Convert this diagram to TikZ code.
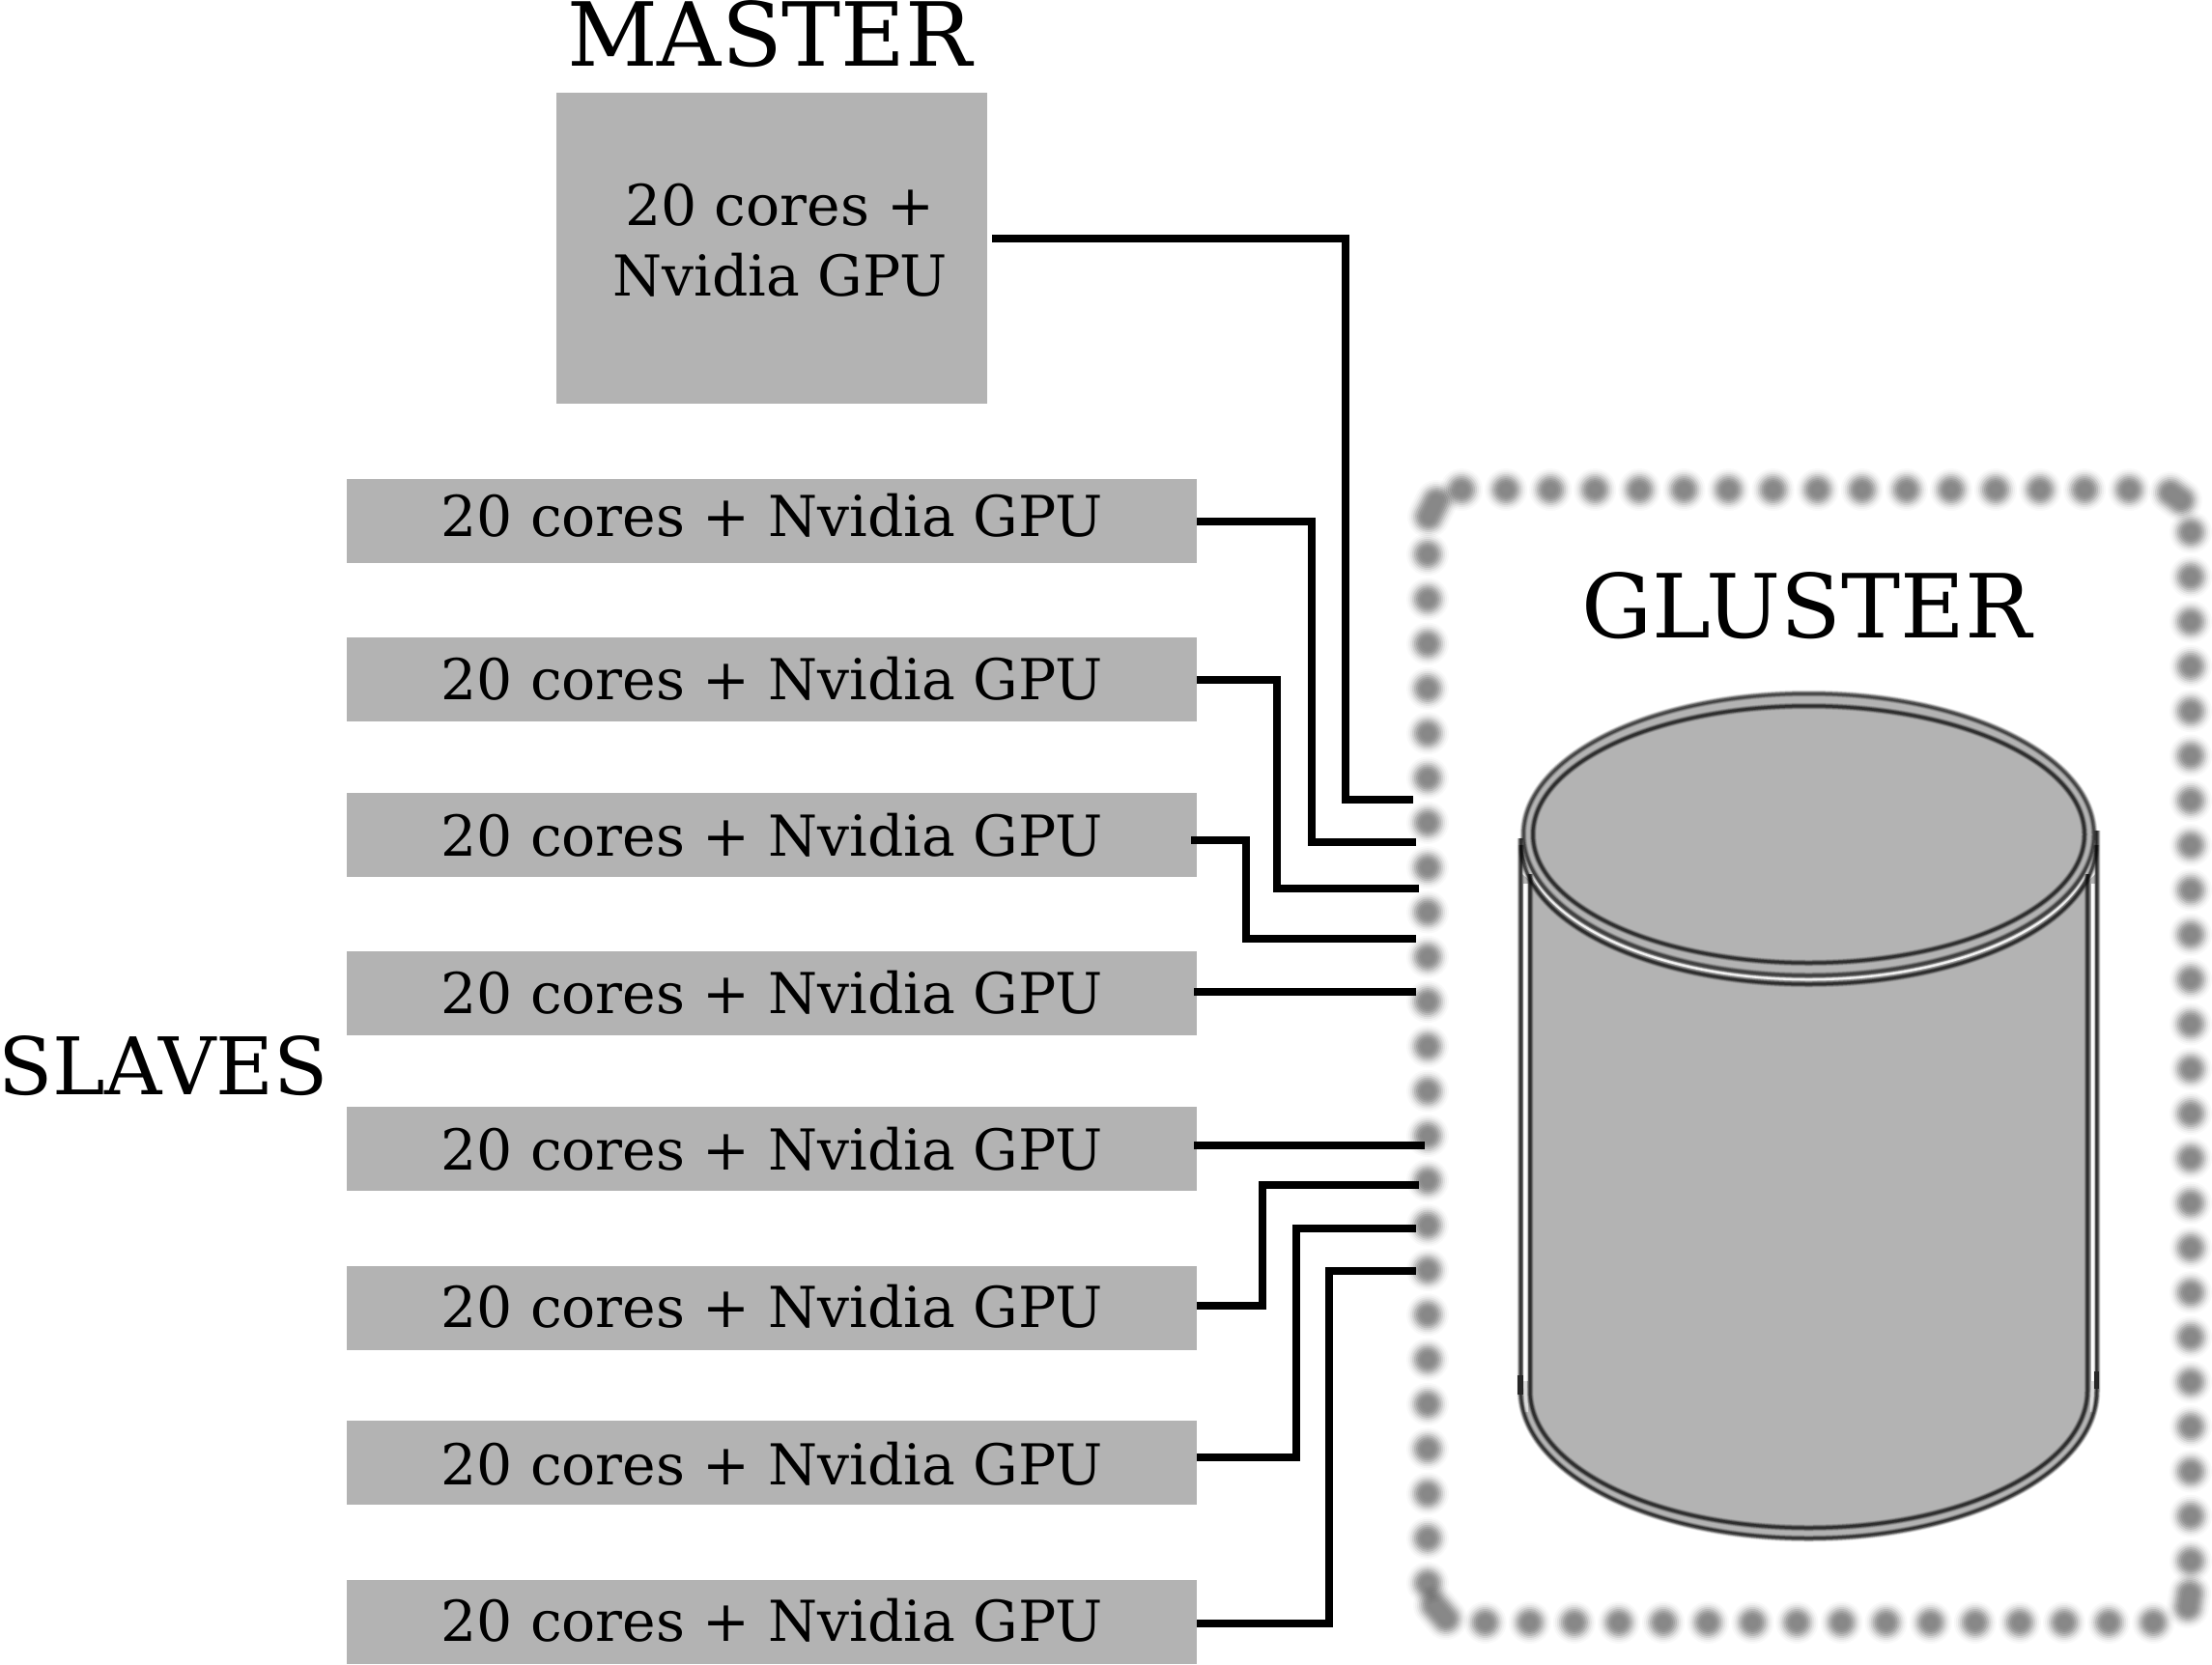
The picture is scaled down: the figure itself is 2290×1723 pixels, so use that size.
\documentclass[tikz,border=0pt]{standalone}
\usepackage{fontspec}
\setmainfont{DejaVu Serif}
\definecolor{boxgray}{HTML}{B3B3B3}
\tikzset{
  px/.style={x=1pt,y=-1pt},
  boxbase/.style={fill=boxgray,draw=none,inner sep=0pt,font=\fontsize{58.4}{73}\selectfont},
  slavebox/.style={boxbase,minimum width=880,minimum height=87,text depth=10},
  masterbox/.style={boxbase,minimum width=446,minimum height=322,align=center},
  bigtext/.style={font=\fontsize{91.6}{96}\selectfont,inner sep=0pt,anchor=base},
  slavetext/.style={font=\fontsize{82.2}{90}\selectfont,inner sep=0pt,anchor=base},
  wire/.style={line width=8,draw=black,line join=miter},
  cylfill/.style={fill=boxgray},
}
\newcommand{\softpath}[2]{\foreach \w/\o in {7/.12,5.5/.2,4/.3,2.5/.45}{\draw[#1,line width=\w,opacity=\o] #2;}}
% blur-like stack of round strokes; #1 = dash options, #2 = path
\newcommand{\blurred}[2]{\foreach \r/\o in {22/.025,20/.035,18/.06,16/.085,14/.105,12/.11,10/.095,8/.06,6/.03}{\draw[black,opacity=\o,line width=2*\r,line cap=round,#1] #2;}}
\begin{document}
\begin{tikzpicture}[px]
\useasboundingbox (0,0) rectangle (2290,1723);
% blurred dotted frame: four sides and the four elongated corner dots
\blurred{dash pattern=on 0.01 off 46.07}{(1513,507) -- (2212,507)}
\blurred{dash pattern=on 0.01 off 46.3}{(2268,551) -- (2268,1630)}
\blurred{dash pattern=on 0.01 off 46.3}{(1478,574) -- (1478,1640)}
\blurred{dash pattern=on 0.01 off 46.1}{(1537.6,1680) -- (2235,1680)}
\blurred{}{(1479,535) -- (1487,519)}
\blurred{}{(2247,510) -- (2258,518)}
\blurred{}{(2267,1650) -- (2265,1664)}
\blurred{}{(1485,1662) -- (1497,1676)}
% cylinder
\coordinate (cyltop) at (1872.5,864);
\fill[cylfill] (1574,868) -- (1574,1440) arc[start angle=180,end angle=0,x radius=298.5,y radius=153] -- (2171,860) -- cycle;
% white strips beside the inner side lines
\draw[white,line width=5] (1579,915) -- (1579,1430);
\draw[white,line width=4] (2166.5,915) -- (2166.5,1430);
\draw[white,opacity=.55,line width=4] (1579,1430) -- (1580,1462);
\draw[white,opacity=.55,line width=3.5] (2166.5,1430) -- (2165.5,1462);
\fill[white] (1576,888) -- (1576,905) -- (1590,917) -- cycle;
\fill[white] (2169,880) -- (2169,905) -- (2157,917) -- cycle;
\draw[white,opacity=.85,line width=2.6] (1577,870) arc[start angle=180,end angle=0,x radius=295.5,y radius=144];
\softpath{black}{(1574,868) -- (1574,1440) arc[start angle=180,end angle=0,x radius=298.5,y radius=153] -- (2171,860)}
\softpath{black}{(1584,905) -- (1584,1440) arc[start angle=180,end angle=0,x radius=288.5,y radius=142] -- (2161,905)}
\softpath{black}{(1575,875) arc[start angle=180,end angle=0,x radius=297.5,y radius=144]}
\draw[black!85,line width=6] (1574,1424) -- (1574,1444);
\draw[black!85,line width=5] (2170.5,1420) -- (2170.5,1438);
\fill[cylfill] (cyltop) ellipse[x radius=295.5,y radius=146];
\softpath{black!90}{(cyltop) ellipse[x radius=295.5,y radius=146]}
\softpath{black}{(cyltop) ellipse[x radius=285.5,y radius=133]}
% boxes
\node[masterbox] (m) at (798.8,257) {\hspace*{17.4pt}20 cores +\\\hspace*{17.4pt}Nvidia GPU\rule[-17pt]{0pt}{0pt}};
\node[slavebox,text height=41.4] (s1) at (799,539.7) {20 cores + Nvidia GPU};
\node[slavebox,text height=51] (s2) at (799,703.5) {20 cores + Nvidia GPU};
\node[slavebox,text height=53.6] (s3) at (799,864.6) {20 cores + Nvidia GPU};
\node[slavebox,text height=51.6] (s4) at (799,1028.7) {20 cores + Nvidia GPU};
\node[slavebox,text height=54.4] (s5) at (799,1189.6) {20 cores + Nvidia GPU};
\node[slavebox,text height=50.8] (s6) at (799,1354) {20 cores + Nvidia GPU};
\node[slavebox,text height=54.6] (s7) at (799,1514.8) {20 cores + Nvidia GPU};
\node[slavebox,text height=50] (s8) at (799,1679) {20 cores + Nvidia GPU};
% labels
\node[bigtext] (lm) at (797,69) {MASTER};
\node[bigtext] (lg) at (1870,660) {GLUSTER};
\node[slavetext] (ls) at (169,1133) {SLAVES};
% wire ends
\coordinate (g0) at (1463,828);  \coordinate (j0) at (1393,828);
\coordinate (g1) at (1466,872);  \coordinate (j1) at (1358,872);
\coordinate (g2) at (1469,920);  \coordinate (j2) at (1322,920);
\coordinate (g3) at (1466,972);  \coordinate (j3) at (1290,972);
\coordinate (g4) at (1466,1027);
\coordinate (g5) at (1475,1186);
\coordinate (g6) at (1469,1227); \coordinate (j6) at (1307,1227);
\coordinate (g7) at (1466,1272); \coordinate (j7) at (1342,1272);
\coordinate (g8) at (1466,1316); \coordinate (j8) at (1376,1316);
% wires
\draw[wire] ([xshift=5,yshift=10]m.east) -| (j0) -- (g0);
\draw[wire] (s1.east) -| (j1) -- (g1);
\draw[wire] (s2.east) -| (j2) -- (g2);
\draw[wire] ([xshift=-6,yshift=-5]s3.east) -| (j3) -- (g3);
\draw[wire] ([xshift=-3]s4.east |- g4) -- (g4);
\draw[wire] ([xshift=-3]s5.east |- g5) -- (g5);
\draw[wire] ([yshift=2]s6.east) -| (j6) -- (g6);
\draw[wire] ([yshift=6]s7.east) -| (j7) -- (g7);
\draw[wire] ([yshift=-2]s8.east) -| (j8) -- (g8);
\end{tikzpicture}
\end{document}
